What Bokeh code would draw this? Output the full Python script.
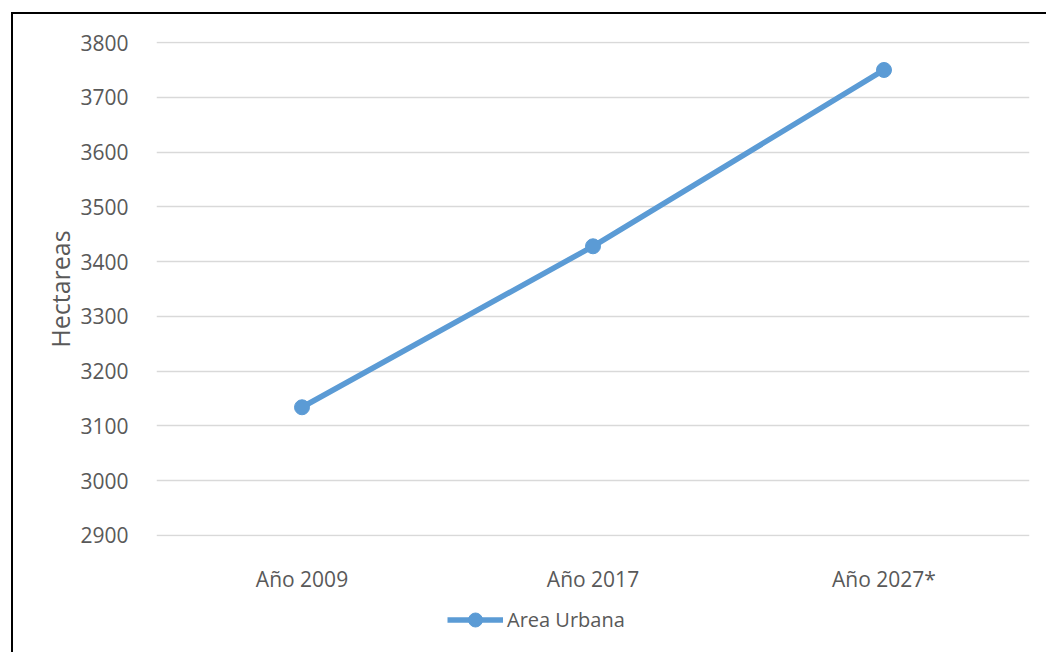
from bokeh.plotting import figure
from bokeh.layouts import column
from bokeh.models import Range1d, Legend, LegendItem, FixedTicker
from bokeh.embed import file_html
from bokeh.resources import INLINE

categories = ["Año 2009", "Año 2017", "Año 2027*"]
area_urbana = [3134, 3428, 3750]
y_ticks = [2900, 3000, 3100, 3200, 3300, 3400, 3500, 3600, 3700, 3800]
series_name = "Area Urbana"
y_label = "Hectareas"

BLUE = "#5b9bd5"
TXT = "#595959"
FONT = "Open Sans"

p = figure(x_range=categories, y_range=Range1d(2898, 3802),
           width=1033, height=584, output_backend="svg", toolbar_location=None,
           min_border_left=143, min_border_right=17, min_border_top=27,
           min_border_bottom=62)

p.outline_line_color = None
p.background_fill_color = "white"
p.border_fill_color = "white"
p.xgrid.grid_line_color = None
p.ygrid.grid_line_color = "#d9d9d9"
p.ygrid.grid_line_width = 1.5
p.yaxis.ticker = FixedTicker(ticks=y_ticks)

for ax in (p.xaxis[0], p.yaxis[0]):
    ax.axis_line_color = None
    ax.major_tick_line_color = None
    ax.minor_tick_line_color = None
    ax.major_label_text_font = FONT
    ax.major_label_text_font_size = "21px"
    ax.major_label_text_color = TXT
    ax.major_label_standoff = 22

p.yaxis.axis_label = y_label
p.yaxis.axis_label_text_font = FONT
p.yaxis.axis_label_text_font_size = "25px"
p.yaxis.axis_label_text_font_style = "normal"
p.yaxis.axis_label_text_color = TXT
p.yaxis.axis_label_standoff = 0

p.line(categories, area_urbana, line_color=BLUE, line_width=5.5)
p.scatter(categories, area_urbana, size=15, fill_color=BLUE, line_color=BLUE)

# legend strip below the chart (its own renderers lie outside its view)
q = figure(x_range=categories, y_range=Range1d(0, 1),
           width=1033, height=54, output_backend="svg", toolbar_location=None,
           x_axis_type=None, y_axis_type=None,
           min_border_left=0, min_border_right=0, min_border_top=0,
           min_border_bottom=0)
q.outline_line_color = None
q.grid.visible = False
q.border_fill_color = "white"
ql = q.line(categories, area_urbana, line_color=BLUE, line_width=5.5)
qd = q.scatter(categories, area_urbana, size=15, fill_color=BLUE, line_color=BLUE)

legend = Legend(items=[LegendItem(label=series_name, renderers=[ql, qd])],
                location=(291, 15), orientation="horizontal",
                border_line_color=None, background_fill_alpha=0,
                glyph_width=56, glyph_height=35,
                label_text_font=FONT, label_text_font_size="20px",
                label_text_color=TXT, label_standoff=4,
                padding=0, margin=0)
q.add_layout(legend, "center")

layout = column(p, q, spacing=0)
layout.styles = {"margin-left": "11px", "margin-top": "12px",
                 "border-left": "2px solid black", "border-top": "2px solid black"}

open("out.html", "w").write(file_html(layout, INLINE))
